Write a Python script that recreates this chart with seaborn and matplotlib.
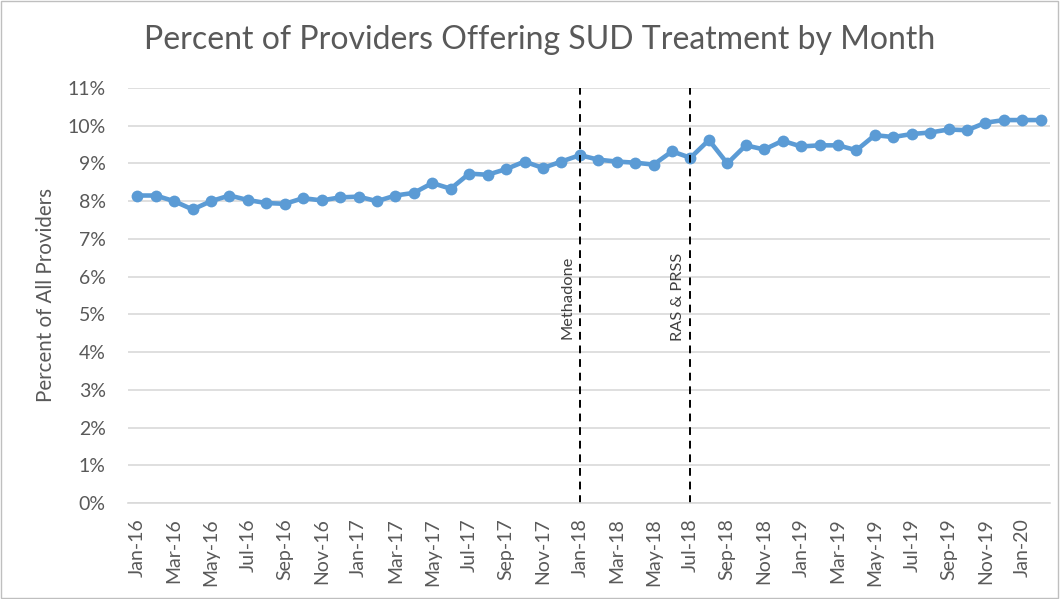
import matplotlib
matplotlib.use("Agg")
import matplotlib.pyplot as plt
import matplotlib.ticker as mticker
import numpy as np
import pandas as pd
import seaborn as sns

# ---- data ----
months = pd.date_range("2016-01-01", "2020-02-01", freq="MS")
month_labels = [d.strftime("%b-%y") for d in months]
pct_offering = [
    8.15, 8.15, 8.00, 7.78, 8.00, 8.15, 8.03, 7.95, 7.93, 8.08, 8.02, 8.10,
    8.12, 8.00, 8.15, 8.22, 8.48, 8.33, 8.73, 8.70, 8.85, 9.05, 8.88, 9.05,
    9.22, 9.10, 9.05, 9.02, 8.97, 9.32, 9.15, 9.62, 9.00, 9.48, 9.37, 9.60,
    9.45, 9.48, 9.48, 9.35, 9.75, 9.70, 9.78, 9.82, 9.90, 9.88, 10.08, 10.15,
    10.15, 10.15,
]
events = ["Methadone", "RAS & PRSS"]
event_months = ["Jan-18", "Jul-18"]

df = pd.DataFrame({"idx": np.arange(len(months)), "pct": pct_offering})

sns.set_theme(style="white")
plt.rcParams["font.family"] = ["Lato", "DejaVu Sans"]

text_color = "#595959"
line_color = "#5B9BD5"

fig = plt.figure(figsize=(10.6, 5.99), dpi=100)
ax = fig.add_axes([0.1208, 0.1603, 0.8698, 0.6928])

ax.yaxis.grid(True, color="#D9D9D9", linewidth=1.2)
ax.set_axisbelow(True)

sns.lineplot(
    data=df, x="idx", y="pct", ax=ax, color=line_color, linewidth=3.3,
    marker="o", markersize=8.5, markeredgewidth=0, markeredgecolor=line_color,
)

# event markers
for name, m in zip(events, event_months):
    xpos = month_labels.index(m)
    ax.axvline(xpos, color="black", linestyle=(0, (4, 3)), linewidth=1.4)
    ax.text(xpos - 0.65, 5.45, name, rotation=90, ha="center", va="center",
            fontsize=11.8, color="#404040")

ax.set_xlim(-0.5, len(months) - 0.5)
ax.set_ylim(0, 11)
ax.set_yticks(np.arange(0, 12, 1))
ax.yaxis.set_major_formatter(mticker.FuncFormatter(lambda v, _: f"{v:.0f}%"))
ax.set_xticks(np.arange(0, len(months), 2))
ax.set_xticklabels(month_labels[::2], rotation=90)
ax.tick_params(axis="both", length=0, labelsize=14, labelcolor=text_color)
ax.tick_params(axis="x", pad=11)
ax.tick_params(axis="y", pad=16)

for s in ["top", "right", "left"]:
    ax.spines[s].set_visible(False)
ax.spines["bottom"].set_color("#D9D9D9")
ax.spines["bottom"].set_linewidth(1.2)

ax.set_xlabel("")
ax.set_ylabel("Percent of All Providers", fontsize=14.8, color=text_color, labelpad=8)

fig.text(0.509, 0.933, "Percent of Providers Offering SUD Treatment by Month",
         ha="center", va="center", fontsize=23, color=text_color)

# light frame around the chart
fig.patches.append(plt.Rectangle((0.001, 0.001), 0.997, 0.997, transform=fig.transFigure,
                                 fill=False, edgecolor="#BFBFBF", linewidth=1))

fig.savefig("out.png", dpi=100)
